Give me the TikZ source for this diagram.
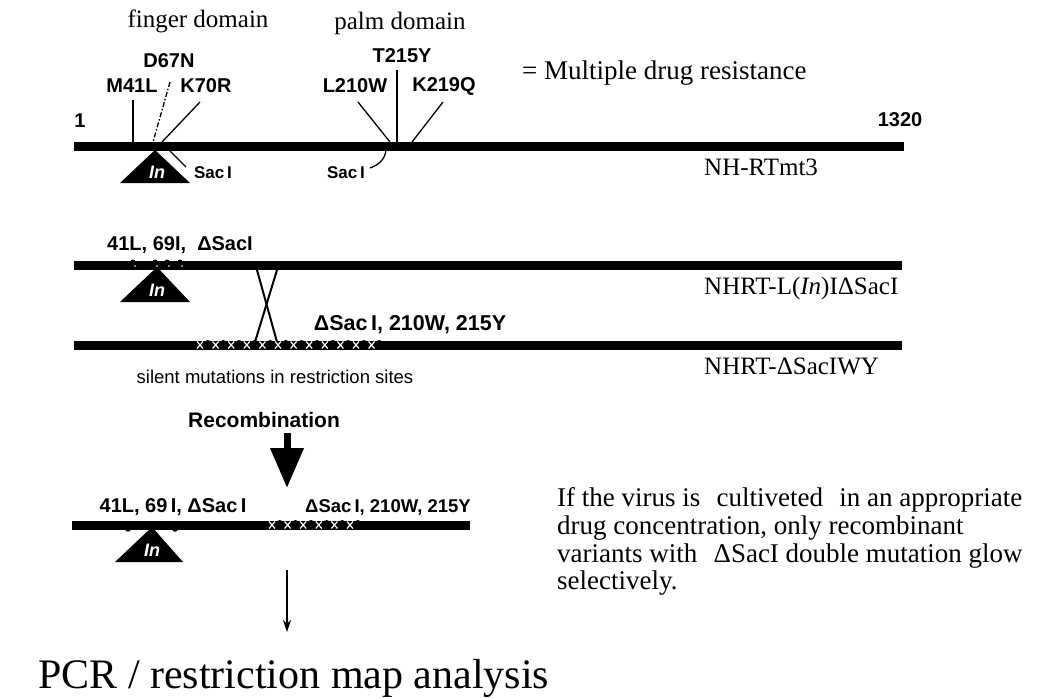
\documentclass[tikz,border=0pt]{standalone}
\usepackage{fontspec}
\setmainfont{Liberation Serif}
\newfontfamily\sflab{Liberation Sans}
\usetikzlibrary{arrows.meta}
\tikzset{
  bar/.style={line width=9pt},
  tickline/.style={line width=1.3pt},
  serif/.style={inner sep=0pt, font=\fontsize{25}{30}\selectfont},
  para/.style={inner sep=0pt, anchor=base west, font=\fontsize{27}{29}\selectfont},
  mlab/.style={inner sep=0pt, font=\sflab\bfseries\fontsize{20}{24}\selectfont},
  inlab/.style={inner sep=0pt, text=white, font=\sflab\bfseries\itshape\fontsize{18}{20}\selectfont},
  saclab/.style={inner sep=0pt, font=\sflab\bfseries\fontsize{17}{20}\selectfont},
  smalllab/.style={inner sep=0pt, font=\sflab\fontsize{18.5}{22}\selectfont},
  tri/.style={fill=black},
  cross/.style={white, line width=1.2pt},
  bump/.style={fill=black},
  speck/.style={fill=white},
}
\begin{document}
\begin{tikzpicture}[x=1pt,y=-1pt]
\useasboundingbox[fill=white] (0,0) rectangle (1045,699);

% ---------- top headings ----------
\node[serif, anchor=base] (finger) at (198,27) {finger domain};
\node[serif, anchor=base] (palm) at (400,29) {palm domain};
\node[serif, anchor=base west, font=\fontsize{27}{30}\selectfont] (mdr) at (522,79) {= Multiple drug resistance};

% ---------- bar 1 ----------
\coordinate (b1s) at (74,146);
\coordinate (b1e) at (904,146);
\draw[bar] (b1s) -- (b1e);
\node[mlab] (one) at (80,121) {1};
\node[mlab] (end1320) at (900,120) {1320};

\node[mlab] (d67n) at (169,61) {D67N};
\node[mlab] (m41l) at (132,86) {M41L};
\node[mlab] (k70r) at (206,86) {K70R};
\node[mlab] (t215y) at (402,56) {T215Y};
\node[mlab] (l210w) at (355,86) {L210W};
\node[mlab] (k219q) at (444,86) {K219Q};

\coordinate (m41a) at (133,100); \coordinate (m41b) at (133,142);
\coordinate (d67a) at (170,82);  \coordinate (d67b) at (153,142);
\coordinate (k70a) at (200,102); \coordinate (k70b) at (162,142);
\coordinate (t215a) at (397,70); \coordinate (t215b) at (397,142);
\coordinate (l210a) at (358,102); \coordinate (l210b) at (390,142);
\coordinate (k219a) at (443,102); \coordinate (k219b) at (412,142);
\draw[tickline] (m41a) -- (m41b);
\draw[tickline, dash pattern=on 5pt off 2pt on 1.5pt off 2pt] (d67a) -- (d67b);
\draw[tickline] (k70a) -- (k70b);
\draw[line width=1.8pt] (t215a) -- (t215b);
\draw[tickline] (l210a) -- (l210b);
\draw[tickline] (k219a) -- (k219b);

\fill[tri] (155,150) -- (190,183) -- (120,183) -- cycle;
\node[inlab] (in1) at (157,172) {In};
\coordinate (s1a) at (170,151); \coordinate (s1b) at (186,167);
\draw[tickline] (s1a) -- (s1b);
\node[saclab] (sac1) at (213,173) {Sac\,I};
\coordinate (s2a) at (386,150); \coordinate (s2b) at (370,168);
\draw[tickline] (s2a) .. controls (385,160) and (378,165) .. (s2b);
\node[saclab] (sac2) at (346,173) {Sac\,I};
\node[serif, anchor=base west] (nh) at (704,175) {NH-RTmt3};

% ---------- bar 2 ----------
\coordinate (b2s) at (74,265);
\coordinate (b2e) at (902,265);
\draw[bar] (b2s) -- (b2e);
\foreach \x in {133,155,167,180} {
  \fill[bump] (\x,262) circle (2.5);
  \fill[speck] (\x+2,266) circle (0.9);
}
\node[mlab] (lab2) at (180,245) {41L, 69I, \ ΔSacI};
\fill[tri] (157,267) -- (190,302) -- (120,302) -- cycle;
\node[inlab] (in2) at (157,290) {In};
\node[serif, anchor=base west] (nhrtl) at (704,294) {NHRT-L(\textit{In})IΔSacI};

% crossover
\coordinate (xa1) at (257,270); \coordinate (xb1) at (277,342);
\coordinate (xa2) at (277,270); \coordinate (xb2) at (255,342);
\draw[line width=2pt] (xa1) -- (xb1);
\draw[line width=2pt] (xa2) -- (xb2);

% ---------- bar 3 ----------
\coordinate (b3s) at (74,345);
\coordinate (b3e) at (902,345);
\draw[bar] (b3s) -- (b3e);
\foreach \x in {200,215.6,...,372} {
  \fill[bump] (\x+7.8,345) circle (5);
  \draw[cross] (\x-3,341.5) -- (\x+3,348.5) (\x-3,348.5) -- (\x+3,341.5);
}
\node[mlab, font=\sflab\bfseries\fontsize{21.5}{24}\selectfont] (lab3) at (410,325) {ΔSac\,I, 210W, 215Y};
\node[serif, anchor=base west] (nhrtd) at (704,374) {NHRT-ΔSacIWY};
\node[smalllab] (silent) at (275,377) {silent mutations in restriction sites};

% ---------- recombination ----------
\node[inner sep=0pt, font=\sflab\bfseries\fontsize{21}{24}\selectfont] (recomb) at (264,420) {Recombination};
\coordinate (ra) at (287,433); \coordinate (rb) at (287,488);
\draw[line width=7pt, -{Triangle[length=40pt,width=32pt]}] (ra) -- (rb);

% ---------- bar 4 ----------
\coordinate (b4s) at (72,525);
\coordinate (b4e) at (470,525);
\draw[bar] (b4s) -- (b4e);
\foreach \x in {272,287.6,...,352} {
  \fill[bump] (\x+7.8,525) circle (5);
  \draw[cross] (\x-3,521.5) -- (\x+3,528.5) (\x-3,528.5) -- (\x+3,521.5);
}
\fill[bump] (128,529) circle (2.8);
\fill[bump] (175,529) circle (2.8);
\node[mlab] (lab4a) at (173,507) {41L, 69\,I, ΔSac\,I};
\node[mlab, font=\sflab\bfseries\fontsize{18.5}{22}\selectfont] (lab4b) at (388,507) {ΔSac\,I, 210W, 215Y};
\fill[tri] (152,527) -- (183,562) -- (115,562) -- cycle;
\node[inlab] (in4) at (152,550) {In};

\coordinate (pa) at (287,570); \coordinate (pb) at (287,632);
\draw[line width=1.4pt, -{Stealth[length=12pt,width=8pt]}] (pa) -- (pb);
\node[inner sep=0pt, anchor=base west, font=\fontsize{42}{46}\selectfont] (pcr) at (38,688) {PCR / restriction map analysis};

% ---------- explanation ----------
\node[para] (p1) at (557,506) {If the virus is\hspace{0.6em}cultiveted\hspace{0.6em}in an appropriate};
\node[para] (p2) at (557,534) {drug concentration, only recombinant};
\node[para] (p3) at (557,562) {variants with\hspace{0.6em}ΔSacI double mutation glow};
\node[para] (p4) at (557,589) {selectively.};
\end{tikzpicture}
\end{document}
